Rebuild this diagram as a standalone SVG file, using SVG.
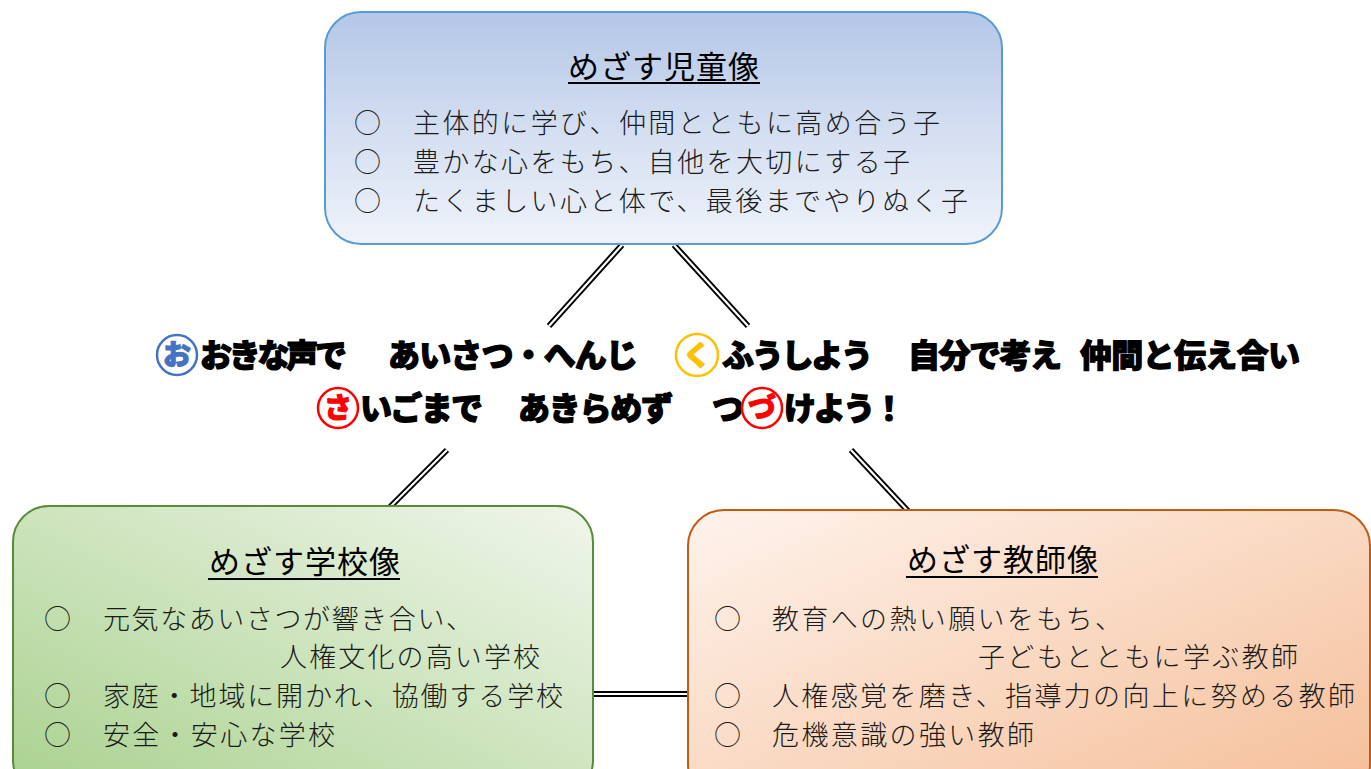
<svg xmlns="http://www.w3.org/2000/svg" width="1371" height="769" viewBox="0 0 1371 769">
<defs>
<linearGradient id="gTop" x1="0" y1="0" x2="0" y2="1">
<stop offset="0" stop-color="#B4C7E7"/>
<stop offset="0.5" stop-color="#D3DEF1"/>
<stop offset="1" stop-color="#EFF3FA"/>
</linearGradient>
<linearGradient id="gLeft" x1="1" y1="0" x2="0" y2="1">
<stop offset="0" stop-color="#F0F6EB"/>
<stop offset="1" stop-color="#A9D18E"/>
</linearGradient>
<linearGradient id="gRight" x1="0" y1="0" x2="1" y2="1">
<stop offset="0" stop-color="#FEF3EC"/>
<stop offset="1" stop-color="#F5BE98"/>
</linearGradient>
<style>
.title{font-family:"Noto Sans CJK JP","Noto Sans CJK SC",sans-serif;font-size:31px;fill:#000;text-anchor:middle;letter-spacing:1px}
.body{font-family:"Noto Sans CJK JP","Noto Sans CJK SC",sans-serif;font-size:27px;font-weight:300;fill:#1a1a1a}
.ul{stroke:#000;stroke-width:2}
.slogan{font-family:"Noto Sans CJK JP","Noto Sans CJK SC",sans-serif;font-size:32px;font-weight:900;fill:#000;stroke:#000;stroke-width:1.2;stroke-linejoin:round}
.circ{font-family:"Noto Sans CJK JP","Noto Sans CJK SC",sans-serif;font-size:28px;font-weight:900;text-anchor:middle;stroke-width:1;stroke-linejoin:round}
.dblo{stroke:#000;stroke-width:6;fill:none}
.dbli{stroke:#fff;stroke-width:2.2;fill:none}
</style>
</defs>
<rect width="1371" height="769" fill="#fff"/>
<g id="connectors">
<path class="dblo" d="M622,245 L549,326 M674,245 L748,326 M447,450 L390,507 M851,450 L908,511 M593,694 L689,694"/>
<path class="dbli" d="M622,245 L549,326 M674,245 L748,326 M447,450 L390,507 M851,450 L908,511 M593,694 L689,694"/>
</g>
<g id="node-child">
<rect x="325" y="12" width="677" height="232" rx="36" fill="url(#gTop)" stroke="#5B9BD5" stroke-width="2"/>
<text class="title" x="664" y="78">めざす児童像</text>
<line class="ul" x1="568" y1="83" x2="760" y2="83"/>
<text class="body" x="354" y="133">○</text>
<text class="body" x="413" y="133" textLength="527">主体的に学び、仲間とともに高め合う子</text>
<text class="body" x="354" y="172">○</text>
<text class="body" x="413" y="172" textLength="497">豊かな心をもち、自他を大切にする子</text>
<text class="body" x="354" y="211">○</text>
<text class="body" x="413" y="211" textLength="555">たくましい心と体で、最後までやりぬく子</text>
</g>
<g id="node-slogan">
<circle cx="177" cy="355" r="20" fill="#fff" stroke="#4472C4" stroke-width="2.5"/>
<text class="circ" x="177" y="365" fill="#4472C4" stroke="#4472C4">お</text>
<text class="slogan" x="200" y="367" textLength="147">おきな声で</text>
<text class="slogan" x="388" y="367" textLength="250">あいさつ・へんじ</text>
<circle cx="697" cy="355" r="21" fill="#fff" stroke="#FFC000" stroke-width="2.5"/>
<text class="circ" x="697" y="366" fill="#FFC000" stroke="#FFC000" font-size="32">く</text>
<text class="slogan" x="722" y="367" textLength="151">ふうしよう</text>
<text class="slogan" x="908" y="367" textLength="154">自分で考え</text>
<text class="slogan" x="1080" y="367" textLength="220">仲間と伝え合い</text>
<circle cx="338" cy="408" r="20" fill="#fff" stroke="#FF0000" stroke-width="2.5"/>
<text class="circ" x="338" y="418" fill="#FF0000" stroke="#FF0000">さ</text>
<text class="slogan" x="360" y="420" textLength="123">いごまで</text>
<text class="slogan" x="518" y="420" textLength="155">あきらめず</text>
<text class="slogan" x="712" y="420">つ</text>
<circle cx="762" cy="408" r="20" fill="#fff" stroke="#FF0000" stroke-width="2.5"/>
<text class="circ" x="762" y="418" fill="#FF0000" stroke="#FF0000">づ</text>
<text class="slogan" x="784" y="420" textLength="121">けよう！</text>
</g>
<g id="node-school">
<rect x="13" y="506" width="580" height="290" rx="36" fill="url(#gLeft)" stroke="#5A8A3A" stroke-width="2"/>
<text class="title" x="305" y="573">めざす学校像</text>
<line class="ul" x1="208" y1="579" x2="400" y2="579"/>
<text class="body" x="44" y="629">○</text>
<text class="body" x="103" y="629" textLength="370">元気なあいさつが響き合い、</text>
<text class="body" x="280" y="667" textLength="260">人権文化の高い学校</text>
<text class="body" x="44" y="706">○</text>
<text class="body" x="103" y="706" textLength="460">家庭・地域に開かれ、協働する学校</text>
<text class="body" x="44" y="745">○</text>
<text class="body" x="103" y="745" textLength="232">安全・安心な学校</text>
</g>
<g id="node-teacher">
<rect x="688" y="510" width="682" height="290" rx="36" fill="url(#gRight)" stroke="#C55A11" stroke-width="2"/>
<text class="title" x="1003" y="571">めざす教師像</text>
<line class="ul" x1="906" y1="577" x2="1098" y2="577"/>
<text class="body" x="714" y="629">○</text>
<text class="body" x="772" y="629" textLength="350">教育への熱い願いをもち、</text>
<text class="body" x="978" y="667" textLength="320">子どもとともに学ぶ教師</text>
<text class="body" x="714" y="706">○</text>
<text class="body" x="772" y="706" textLength="583">人権感覚を磨き、指導力の向上に努める教師</text>
<text class="body" x="714" y="745">○</text>
<text class="body" x="772" y="745" textLength="262">危機意識の強い教師</text>
</g>
</svg>
